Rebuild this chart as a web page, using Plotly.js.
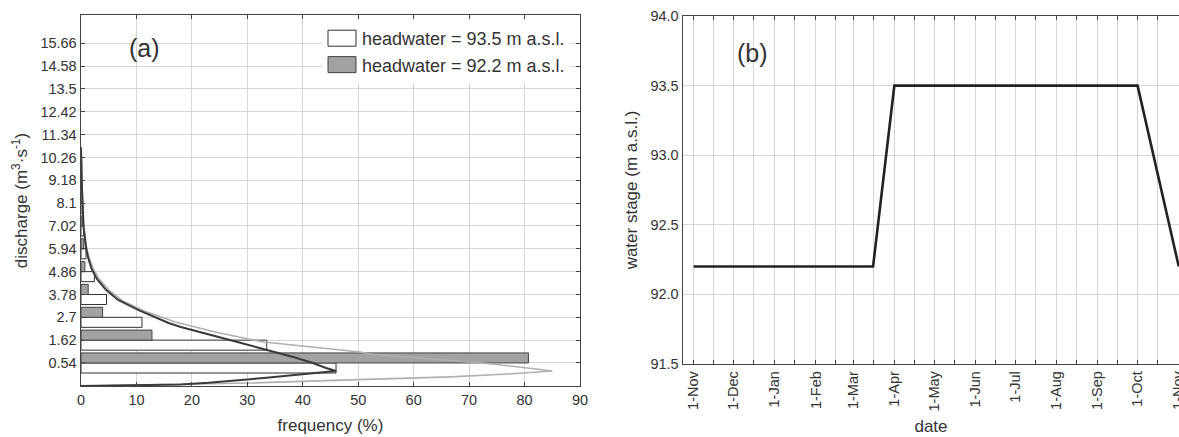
<!DOCTYPE html>
<html>
<head>
<meta charset="utf-8">
<script src="https://cdn.plot.ly/plotly-3.0.1.min.js"></script>
<style>
  html, body { margin: 0; padding: 0; background: #ffffff; }
  #chart { width: 1179px; height: 437px; }
</style>
</head>
<body>
<div id="chart"></div>
<script>
// ---------- Panel (a): discharge histogram ----------
const binCenters = [0.54, 1.62, 2.7, 3.78, 4.86, 5.94, 7.02, 8.1, 9.18, 10.26, 11.34, 12.42, 13.5, 14.58, 15.66];
const binLabels = ["0.54", "1.62", "2.7", "3.78", "4.86", "5.94", "7.02", "8.1", "9.18", "10.26", "11.34", "12.42", "13.5", "14.58", "15.66"];

const histBins = [0.54, 1.62, 2.7, 3.78, 4.86, 5.94, 7.02, 8.1, 9.18, 10.26];
const freqHead935 = [46.0, 33.5, 11.0, 4.6, 2.4, 0.9, 0.5, 0.3, 0.2, 0.1];
const freqHead922 = [80.7, 12.8, 3.9, 1.3, 0.7, 0.5, 0.3, 0.2, 0.1, 0.1];

// fitted curves (discharge, frequency)
const fit935Q = [-0.55, -0.52, -0.48, -0.40, -0.30, -0.17, -0.03, 0.07, 0.16, 0.30, 0.54, 0.80, 1.01, 1.25, 1.48, 1.86, 2.24, 2.43, 3.04, 3.52, 4.0, 4.5, 5.0, 5.5, 6.0, 7.0, 8.0, 9.0, 10.0, 10.6];
const fit935F = [0, 8, 18, 23, 28, 33, 38.5, 42.6, 46.0, 44.2, 41.8, 38.6, 35.4, 32.2, 28.9, 23.3, 18.0, 15.8, 10.4, 6.7, 4.5, 2.9, 1.9, 1.3, 0.9, 0.45, 0.25, 0.15, 0.08, 0];

const fit922Q = [-0.55, -0.41, -0.25, -0.12, 0.02, 0.16, 0.35, 0.54, 0.75, 0.96, 1.06, 1.30, 1.53, 1.67, 2.0, 2.48, 3.0, 3.5, 4.0, 4.5, 5.0, 5.5, 6.0, 7.0, 8.0, 9.0, 10.0, 10.6];
const fit922F = [0, 30.5, 50, 66.6, 77, 85, 79, 72.5, 62, 52.1, 50.3, 41, 33.0, 30.2, 24.2, 17.0, 11.4, 7.4, 5.0, 3.3, 2.2, 1.5, 1.0, 0.5, 0.28, 0.16, 0.09, 0];

// ---------- Panel (b): water stage ----------
const stageDates = ["2010-11-01", "2011-03-16", "2011-04-01", "2011-10-01", "2011-11-01"];
const stageValues = [92.2, 92.2, 93.5, 93.5, 92.2];

const FONT = 'Arial, "Liberation Sans", sans-serif';
const TXT = '#333333';
const GRID = '#d6d6d6';
const AXL = '#444444';

const traces = [
  {
    type: 'bar', orientation: 'h',
    y: histBins, x: freqHead935,
    name: 'headwater = 93.5 m a.s.l.',
    marker: { color: '#ffffff', line: { color: '#333333', width: 1 } },
    xaxis: 'x', yaxis: 'y'
  },
  {
    type: 'bar', orientation: 'h',
    y: histBins, x: freqHead922,
    name: 'headwater = 92.2 m a.s.l.',
    marker: { color: '#a2a2a2', line: { color: '#444444', width: 1 } },
    xaxis: 'x', yaxis: 'y'
  },
  {
    type: 'scatter', mode: 'lines',
    x: fit922F, y: fit922Q,
    line: { color: '#b0b0b0', width: 1.6 },
    showlegend: false, hoverinfo: 'skip',
    xaxis: 'x', yaxis: 'y'
  },
  {
    type: 'scatter', mode: 'lines',
    x: fit935F, y: fit935Q,
    line: { color: '#3a3a3a', width: 2 },
    showlegend: false, hoverinfo: 'skip',
    xaxis: 'x', yaxis: 'y'
  },
  {
    type: 'scatter', mode: 'lines',
    x: stageDates, y: stageValues,
    line: { color: '#222222', width: 2.6 },
    showlegend: false,
    xaxis: 'x2', yaxis: 'y2'
  }
];

const W = 1179, H = 437, MT = 15, MB = 51;
const PH = H - MT - MB;
const px = v => v / W;
const py = v => 1 - (v - MT) / PH;

const commonAxis = {
  showline: true, linecolor: AXL, linewidth: 1.4,
  mirror: 'ticks', ticks: 'inside', ticklen: 4, tickcolor: AXL, tickwidth: 1,
  showgrid: true, gridcolor: GRID, gridwidth: 1,
  zeroline: false,
  ticklabeloverflow: 'allow',
  tickfont: { family: FONT, size: 14.5, color: TXT }
};

const layout = {
  width: W, height: H,
  margin: { l: 0, r: 0, t: MT, b: MB, pad: 0 },
  paper_bgcolor: '#ffffff', plot_bgcolor: '#ffffff',
  font: { family: FONT, color: TXT },
  barmode: 'group', bargap: 0.12, bargroupgap: 0,
  showlegend: true,
  legend: {
    x: px(322), y: py(20), xanchor: 'left', yanchor: 'top',
    bgcolor: '#ffffff', borderwidth: 0,
    font: { family: FONT, size: 18, color: TXT },
    traceorder: 'normal', tracegroupgap: 0
  },
  xaxis: Object.assign({}, commonAxis, {
    domain: [px(81), px(580)],
    range: [0, 90], tick0: 0, dtick: 10,
    anchor: 'y',
    title: { text: 'frequency (%)', font: { family: FONT, size: 17, color: TXT }, standoff: 12 }
  }),
  yaxis: Object.assign({}, commonAxis, {
    domain: [0, 1],
    range: [-0.55, 17.0],
    tickmode: 'array', tickvals: binCenters, ticktext: binLabels,
    anchor: 'x',
    title: { text: 'discharge (m<sup>3</sup>·s<sup>-1</sup>)', font: { family: FONT, size: 17, color: TXT }, standoff: 8 }
  }),
  xaxis2: Object.assign({}, commonAxis, {
    domain: [px(683), 1],
    type: 'date',
    range: ['2010-10-24', '2011-11-01 04:00'],
    tick0: '2010-11-01', dtick: 'M1', tickformat: '%-d-%b', tickangle: -90,
    minor: { tick0: '2010-10-16', dtick: 'M1', ticks: 'inside', ticklen: 4, tickcolor: AXL, showgrid: true, gridcolor: GRID, gridwidth: 1 },
    anchor: 'y2',
    title: { text: 'date', font: { family: FONT, size: 17, color: TXT }, standoff: 9 }
  }),
  yaxis2: Object.assign({}, commonAxis, {
    domain: [py(364), py(16)],
    range: [91.5, 94.0], tick0: 91.5, dtick: 0.5, tickformat: '.1f',
    ticks: '',
    anchor: 'x2',
    title: { text: 'water stage (m a.s.l.)', font: { family: FONT, size: 17, color: TXT }, standoff: 8 }
  }),
  shapes: [
    { type: 'rect', xref: 'paper', yref: 'paper', x0: px(105), x1: px(183), y0: py(77), y1: py(16.5),
      fillcolor: '#ffffff', line: { width: 0 }, layer: 'between' },
    { type: 'rect', xref: 'paper', yref: 'paper', x0: px(688), x1: px(806), y0: py(77), y1: py(17.5),
      fillcolor: '#ffffff', line: { width: 0 }, layer: 'between' }
  ],
  annotations: [
    { text: '(a)', xref: 'paper', yref: 'paper', x: px(144), y: py(48), xanchor: 'center', yanchor: 'middle',
      showarrow: false, font: { family: FONT, size: 25, color: TXT } },
    { text: '(b)', xref: 'paper', yref: 'paper', x: px(752), y: py(53), xanchor: 'center', yanchor: 'middle',
      showarrow: false, font: { family: FONT, size: 25, color: TXT } }
  ]
};

Plotly.newPlot('chart', traces, layout, { staticPlot: true, displayModeBar: false }).then(function (gd) {
  // widen the legend swatches to the rectangular boxes of the original figure
  gd.querySelectorAll('.legend .legendpoints path').forEach(function (p) {
    p.setAttribute('d', 'M14,8H-14V-8H14Z');
  });
});
</script>
</body>
</html>
